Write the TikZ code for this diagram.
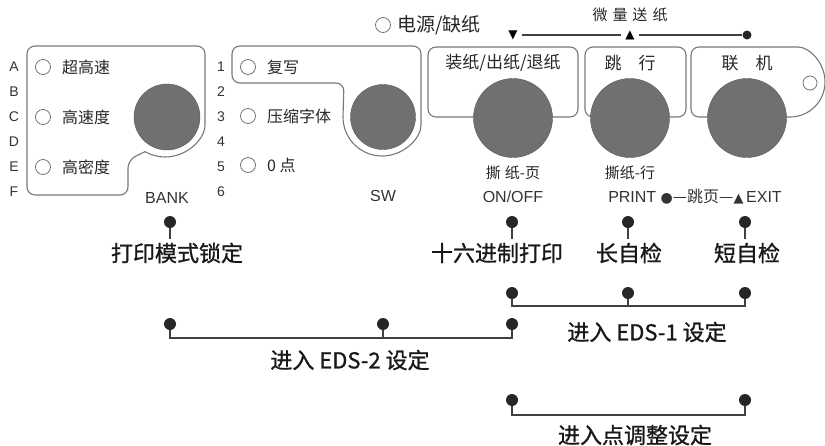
\documentclass[tikz,border=0pt]{standalone}
\usepackage{fontspec}
\setmainfont{Liberation Sans}
\newfontfamily\cjk{Noto Sans CJK SC}
\newfontfamily\cjkheavy[FakeBold=1]{Noto Sans CJK SC}
\newfontfamily\symf{DejaVu Sans}
\usepackage{tikz}
\usetikzlibrary{positioning,calc}
\definecolor{btngray}{RGB}{112,112,112}
\definecolor{rimgray}{RGB}{120,120,120}

\begin{document}
\begin{tikzpicture}[
    x=1pt, y=-1pt,
    panel/.style={draw=rimgray, line width=1.1pt, rounded corners=8pt},
    button/.style={circle, fill=btngray, draw=black!65, line width=0.4pt, inner sep=0pt},
    led/.style={circle, draw=black!55, line width=0.8pt, fill=white, minimum size=15pt, inner sep=0pt},
    ledtext/.style={font=\cjk\fontsize{16}{16}\selectfont, text=black!85, inner sep=0pt},
    keytext/.style={font=\cjk\fontsize{17}{17}\selectfont, text=black!85},
    subtext/.style={font=\cjk\fontsize{15}{15}\selectfont, text=black!85},
    tag/.style={font=\fontsize{14}{14}\selectfont, text=black!80},
    captext/.style={font=\fontsize{16}{16}\selectfont, text=black!80},
    dot/.style={circle, fill=black!85, inner sep=0pt, minimum size=12pt},
    func/.style={font=\cjkheavy\fontsize{22}{22}\selectfont, text=black!90, inner sep=4pt},
    wire/.style={draw=black!75, line width=1.2pt}
]
\useasboundingbox (0,0) rectangle (825,445);

% BANK panel
\draw[panel] (27,120) -- (27,46) -- (205,46) -- (205,117)
    [sharp corners] arc[start angle=0, end angle=120, radius=40]
    [rounded corners=8pt] -- (128,160) -- (128,195) -- (27,195) -- cycle;
\foreach \l [count=\i from 0] in {A,B,C,D,E,F}
    \node[tag] (bank\l) at (14,{67+25*\i}) {\l};
\node[led] (ledA) at (43,67) {};
\node[led] (ledC) at (43,117) {};
\node[led] (ledE) at (43,167) {};
\node[ledtext, right=11pt of ledA] (fast) {超高速};
\node[ledtext, right=11pt of ledC] (speed) {高速度};
\node[ledtext, right=11pt of ledE] (dense) {高密度};
\node[button, minimum size=66pt] (bankbtn) at (167,117) {};
\node[captext] (bank) at (167,198) {BANK};

% SW panel
\draw[panel] (232,65) -- (232,46) -- (421,46) -- (421,117)
    [sharp corners] arc[start angle=0, end angle=180, radius=39]
    [rounded corners=8pt] -- (344,83) -- (232,83) -- cycle;
\foreach \n in {1,...,6}
    \node[tag] (sw\n) at (221,{42+25*\n}) {\n};
\node[led] (led1) at (248,67) {};
\node[led] (led3) at (248,116) {};
\node[led] (led5) at (248,165) {};
\node[ledtext, right=11pt of led1] (copy) {复写};
\node[ledtext, right=11pt of led3] (cond) {压缩字体};
\node[ledtext, right=11pt of led5] (zero) {0 点};
\node[button, minimum size=65pt] (swbtn) at (383,117) {};
\node[captext] (sw) at (383,196) {SW};

% power lamp and micro feed
\node[led] (power) at (383,25) {};
\node[keytext, font=\cjk\fontsize{19}{19}\selectfont, right=3pt of power] (powertext) {电源/缺纸};
\node[font=\symf\fontsize{12}{12}\selectfont, inner sep=4pt] (feedstart) at (513,35) {▼};
\node[font=\symf\fontsize{12}{12}\selectfont, inner sep=4pt] (feedmid) at (630,35) {▲};
\node[dot, minimum size=9pt] (feedend) at (747,35) {};
\node[subtext] (feed) at (630,15) {微\kern5pt量\kern5pt送\kern5pt纸};
\draw[wire] (feedstart) -- (feedmid);
\draw[wire] (feedmid) -- (feedend);

% load / line feed / online keys
\draw[panel] (428,47) rectangle (578,117);
\draw[panel] (585,47) rectangle (686,117);
\draw[panel] (691,82) -- (691,47) -- (790,47)
    [sharp corners] arc[start angle=-90, end angle=90, radius=35]
    [rounded corners=8pt] -- (691,117) -- cycle;
\node[keytext] (load) at (503,63) {装纸/出纸/退纸};
\node[keytext] (lf) at (630,63) {跳\hspace{1em}行};
\node[keytext] (online) at (747,63) {联\hspace{1em}机};
\node[led, minimum size=14pt] (onlineled) at (810,83) {};
\node[button, minimum size=79pt] (loadbtn) at (513,118) {};
\node[button, minimum size=79pt] (lfbtn) at (630,118) {};
\node[button, minimum size=79pt] (onlinebtn) at (747,118) {};
\node[subtext] (tearpage) at (513,173) {撕\kern4pt纸-页};
\node[subtext] (tearline) at (630,173) {撕纸-行};
\node[captext] (onoff) at (513,197) {ON/OFF};
\node[captext] (print) at (695,197)
    {PRINT {\symf\fontsize{14}{14}\selectfont ●}{\cjk —跳页—}{\symf\fontsize{13}{13}\selectfont ▲}\,EXIT};

% functions at power on
\node[dot] (lockdot) at (170,222) {};
\node[dot] (hexdot) at (512,222) {};
\node[dot] (longdot) at (628,222) {};
\node[dot] (shortdot) at (745,222) {};
\node[func] (lock) at (177,253) {打印模式锁定};
\node[func] (hex) at (497,253) {十六进制打印};
\node[func] (long) at (629,253) {长自检};
\node[func] (short) at (747,253) {短自检};
\draw[wire] (lockdot) -- (lockdot |- lock.north);
\draw[wire] (hexdot) -- (hexdot |- hex.north);
\draw[wire] (longdot) -- (longdot |- long.north);
\draw[wire] (shortdot) -- (shortdot |- short.north);

% EDS-1
\node[dot] (eone1) at (512,293) {};
\node[dot] (eone2) at (628,293) {};
\node[dot] (eone3) at (745,293) {};
\coordinate (eoneline) at (0,306);
\draw[wire] (eone1) |- (eoneline -| eone3) -- (eone3);
\draw[wire] (eone2) -- (eone2 |- eoneline);
\node[func] (eone) at (647,332) {进入 EDS-1 设定};

% EDS-2
\node[dot] (etwo1) at (170,324) {};
\node[dot] (etwo2) at (383,324) {};
\node[dot] (etwo3) at (512,324) {};
\coordinate (etwoline) at (0,338);
\draw[wire] (etwo1) |- (etwoline -| etwo3) -- (etwo3);
\draw[wire] (etwo2) -- (etwo2 |- etwoline);
\node[func] (etwo) at (350,360) {进入 EDS-2 设定};

% dot adjustment
\node[dot] (adj1) at (512,400) {};
\node[dot] (adj2) at (745,400) {};
\coordinate (adjline) at (0,415);
\draw[wire] (adj1) |- (adjline -| adj2) -- (adj2);
\node[func] (adj) at (635,435) {进入点调整设定};
\end{tikzpicture}
\end{document}
